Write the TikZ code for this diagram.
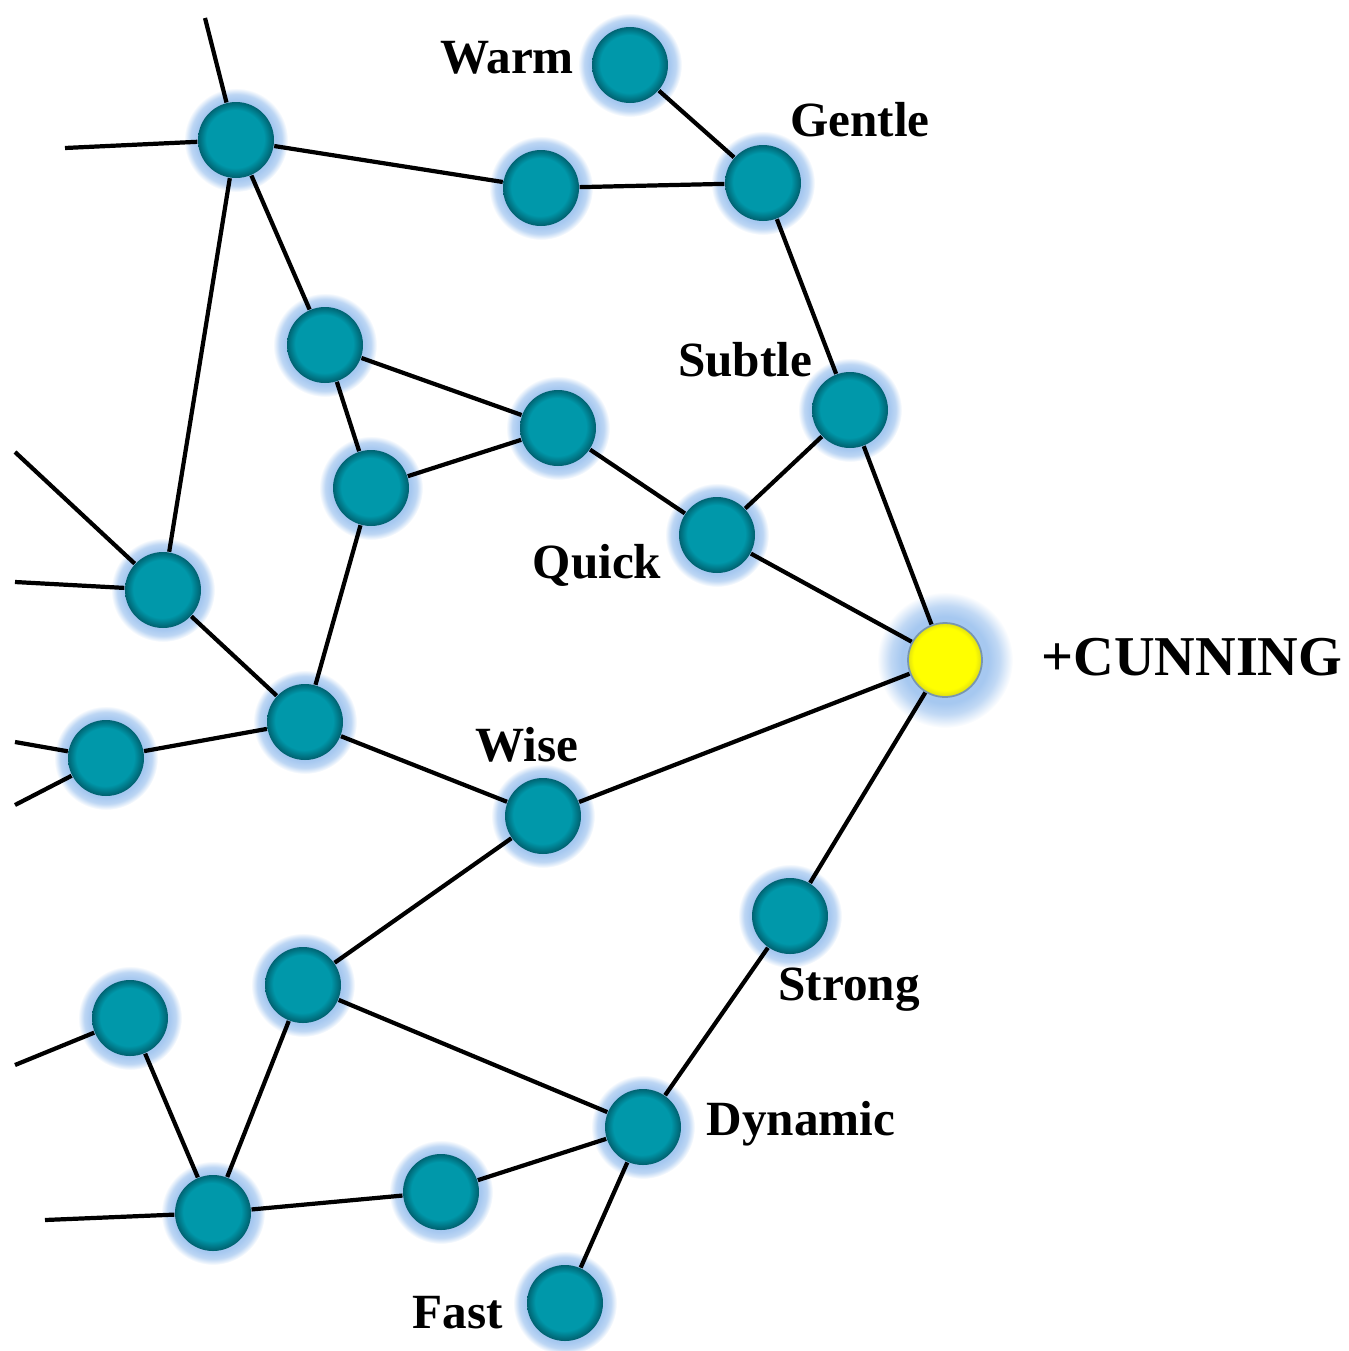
\documentclass[tikz,border=0pt]{standalone}
\usepackage{fontspec}
\setmainfont{Liberation Serif}
\definecolor{beadteal}{RGB}{0,152,170}
\definecolor{beaddark}{RGB}{0,88,102}
\definecolor{haloblue}{RGB}{166,200,240}
\definecolor{sunedge}{RGB}{205,205,30}
\definecolor{sunrim}{RGB}{120,150,175}
\pgfdeclareradialshading{bead}{\pgfpoint{-1.5bp}{2bp}}{color(0bp)=(beadteal); color(19bp)=(beadteal); color(26bp)=(beaddark); color(30bp)=(beaddark)}
\pgfdeclareradialshading{sun}{\pgfpoint{-1.5bp}{2bp}}{color(0bp)=(yellow); color(21bp)=(yellow); color(27bp)=(sunedge); color(30bp)=(sunedge)}
\pgfdeclareradialshading{halo}{\pgfpoint{0bp}{0bp}}{color(0bp)=(haloblue); color(19bp)=(haloblue); color(22bp)=(haloblue!75!white); color(25bp)=(white)}
\pgfdeclareradialshading{bighalo}{\pgfpoint{0bp}{0bp}}{color(0bp)=(haloblue); color(16bp)=(haloblue); color(20bp)=(haloblue!70!white); color(25bp)=(white)}
\pgfdeclarelayer{glow}
\pgfdeclarelayer{wires}
\pgfsetlayers{glow,wires,main}
\tikzset{
  bead/.style={circle, minimum size=0.76cm, inner sep=0pt, shade, shading=bead},
  sun/.style={circle, minimum size=0.74cm, inner sep=0pt, shade, shading=sun, draw=sunrim, line width=0.5pt},
  link/.style={line width=1.2pt, black},
  word/.style={font=\fontsize{14}{16}\selectfont\bfseries, inner sep=0pt}
}
\begin{document}
\begin{tikzpicture}
\useasboundingbox (0,0) rectangle (13.49,-13.51);
% các nút
\node[bead] (hub) at (2.36,-1.40) {};
\node[bead] (warm) at (6.30,-0.65) {};
\node[bead] (gentle) at (7.63,-1.83) {};
\node[bead] (top) at (5.41,-1.88) {};
\node[bead] (m1) at (3.25,-3.45) {};
\node[bead] (m2) at (5.58,-4.28) {};
\node[bead] (subtle) at (8.50,-4.10) {};
\node[bead] (m3) at (3.71,-4.88) {};
\node[bead] (quick) at (7.17,-5.35) {};
\node[bead] (l1) at (1.63,-5.90) {};
\node[sun] (cunning) at (9.45,-6.60) {};
\node[bead] (l2) at (3.05,-7.22) {};
\node[bead] (l3) at (1.06,-7.58) {};
\node[bead] (wise) at (5.43,-8.16) {};
\node[bead] (strong) at (7.90,-9.16) {};
\node[bead] (b1) at (3.03,-9.85) {};
\node[bead] (b2) at (1.30,-10.18) {};
\node[bead] (dynamic) at (6.43,-11.27) {};
\node[bead] (b4) at (4.41,-11.92) {};
\node[bead] (b3) at (2.13,-12.13) {};
\node[bead] (fast) at (5.65,-13.03) {};
% đầu tự do
\coordinate (e1) at (2.05,-0.18);
\coordinate (e2) at (0.65,-1.48);
\coordinate (e3) at (0.15,-4.52);
\coordinate (e4) at (0.15,-5.82);
\coordinate (e5) at (0.15,-7.42);
\coordinate (e6) at (0.15,-8.05);
\coordinate (e7) at (0.15,-10.65);
\coordinate (e8) at (0.45,-12.20);
% nhãn
\node[word] (lwarm) at (5.07,-0.58) {Warm};
\node[word] (lgentle) at (8.60,-1.20) {Gentle};
\node[word] (lsubtle) at (7.45,-3.60) {Subtle};
\node[word] (lquick) at (5.97,-5.65) {Quick};
\node[word] (lwise) at (5.27,-7.45) {Wise};
\node[word, font=\fontsize{16}{18}\selectfont\bfseries] (lcunning) at (11.92,-6.57) {+CUNNING};
\node[word] (lstrong) at (8.49,-9.90) {Strong};
\node[word] (ldynamic) at (8.01,-11.24) {Dynamic};
\node[word] (lfast) at (4.58,-13.13) {Fast};
% quầng sáng
\begin{pgfonlayer}{glow}
\foreach \n in {hub,warm,gentle,top,m1,m2,subtle,m3,quick,l1,l2,l3,wise,strong,b1,b2,dynamic,b4,b3,fast}
  \shade[shading=halo] (\n) circle (0.52);
\shade[shading=bighalo] (cunning) circle (0.68);
\end{pgfonlayer}
% các cạnh
\begin{pgfonlayer}{wires}
\foreach \a/\b in {e1/hub,e2/hub,e3/l1,e4/l1,e5/l3,e6/l3,e7/b2,e8/b3,
  hub/top,top/gentle,warm/gentle,gentle/subtle,hub/m1,hub/l1,m1/m2,m1/m3,m3/m2,
  m2/quick,quick/subtle,subtle/cunning,quick/cunning,m3/l2,l1/l2,l3/l2,l2/wise,
  wise/cunning,cunning/strong,wise/b1,strong/dynamic,b1/dynamic,b1/b3,b2/b3,
  b3/b4,b4/dynamic,dynamic/fast}
  \draw[link] (\a) -- (\b);
\end{pgfonlayer}
\end{tikzpicture}
\end{document}
